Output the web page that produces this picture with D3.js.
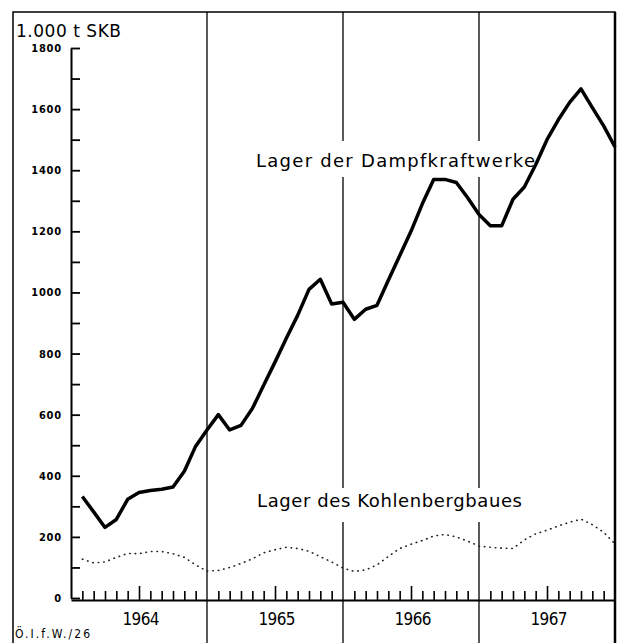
<!DOCTYPE html>
<html>
<head>
<meta charset="utf-8">
<script src="https://cdn.jsdelivr.net/npm/d3@7"></script>
<style>
  body { margin: 0; background: #fff; }
  svg { display: block; }
  .y-axis text { font-family: "DejaVu Sans Condensed", "DejaVu Sans", sans-serif; font-weight: bold; font-size: 11px; letter-spacing: 0.8px; }
</style>
</head>
<body>
<div id="chart"></div>
<script>
/**
 * CONSTANTS AND GLOBALS
 * */
const width = 623,
  height = 643,
  margin = { top: 48, bottom: 43, left: 71, right: 8 };

// years on the x axis (monthly values, end of month)
const years = [1964, 1965, 1966, 1967];

// Lager der Dampfkraftwerke, 1.000 t SKB, Jan 1964 - Dec 1967
const kraftwerke = [
  332, 282, 231, 257, 323, 345, 352, 356, 363, 415, 497, 550,
  600, 550, 565, 620, 696, 772, 850, 925, 1010, 1043, 962, 968,
  912, 945, 958, 1040, 1120, 1200, 1290, 1370, 1370, 1360, 1310, 1255,
  1218, 1218, 1305, 1345, 1418, 1500, 1565, 1622, 1666, 1605, 1545, 1476
];

// Lager des Kohlenbergbaues
const bergbau = [
  127, 115, 118, 133, 146, 145, 152, 152, 145, 133, 108, 88,
  90, 100, 113, 128, 148, 158, 166, 162, 153, 135, 118, 98,
  87, 92, 108, 136, 162, 176, 188, 203, 208, 200, 186, 170,
  166, 163, 162, 190, 210, 222, 236, 248, 258, 240, 215, 177
];

const yTicks = d3.range(0, 1801, 100);
const yLabels = [0, 200, 400, 600, 800, 1000, 1200, 1400, 1600, 1800];

const svg = d3.select("#chart")
  .append("svg")
  .attr("width", width)
  .attr("height", height);

// SCALES
const xScale = d3.scaleLinear()
  .domain([0, years.length * 12])
  .range([margin.left, width - margin.right]);

const yScale = d3.scaleLinear()
  .domain([0, 1800])
  .range([598, margin.top]);

// outer frame
svg.append("rect")
  .attr("x", 13).attr("y", 12)
  .attr("width", width - margin.right - 13)
  .attr("height", 660)
  .attr("fill", "none")
  .attr("stroke", "#000")
  .attr("stroke-width", 1.5);

svg.append("line")
  .attr("x1", width - margin.right).attr("x2", width - margin.right)
  .attr("y1", 12).attr("y2", height)
  .attr("stroke", "#000")
  .attr("stroke-width", 2.5);

// year separators
svg.selectAll(".year-line")
  .data(years.slice(1))
  .join("line")
  .attr("class", "year-line")
  .attr("x1", (d, i) => xScale((i + 1) * 12))
  .attr("x2", (d, i) => xScale((i + 1) * 12))
  .attr("y1", 12)
  .attr("y2", height)
  .attr("stroke", "#000")
  .attr("stroke-width", 1.3);

// white boxes behind the labels (they cut the year lines)
svg.append("rect")
  .attr("x", 250).attr("y", 141).attr("width", 290).attr("height", 36)
  .attr("fill", "#fff");
svg.append("rect")
  .attr("x", 250).attr("y", 488).attr("width", 280).attr("height", 34)
  .attr("fill", "#fff");

// y axis, ticks pointing inward
const yAxis = d3.axisLeft(yScale)
  .tickValues(yTicks)
  .tickSize(-9)
  .tickSizeOuter(0)
  .tickPadding(9)
  .tickFormat(d => yLabels.includes(d) ? d : "");

const gy = svg.append("g")
  .attr("class", "axis y-axis")
  .attr("transform", `translate(${margin.left},0)`)
  .call(yAxis);
gy.select(".domain").attr("stroke-width", 2);
gy.selectAll(".tick line").attr("stroke-width", 1.8);

// x axis, monthly ticks pointing up
const monthTicks = d3.range(1, years.length * 12).filter(m => m % 12 !== 0);
const xAxis = d3.axisBottom(xScale)
  .tickValues(monthTicks)
  .tickSize(-9)
  .tickSizeOuter(0)
  .tickFormat("");

const gx = svg.append("g")
  .attr("class", "axis x-axis")
  .attr("transform", `translate(0,${yScale(0) + 2})`)
  .call(xAxis);
gx.select(".domain").attr("stroke-width", 2);
gx.selectAll(".tick line")
  .attr("stroke-width", 1.6)
  .attr("y2", d => d % 12 === 6 ? -14 : -9);

// year labels
svg.selectAll(".year-label")
  .data(years)
  .join("text")
  .attr("class", "year-label")
  .attr("x", (d, i) => xScale(i * 12 + 6) + 2)
  .attr("y", 625)
  .attr("text-anchor", "middle")
  .attr("font-family", "DejaVu Sans Condensed, DejaVu Sans, sans-serif")
  .attr("font-size", 17)
  .attr("textLength", 37)
  .text(d => d);

// LINES
const line = d3.line()
  .x((d, i) => xScale(i + 1))
  .y(d => yScale(d));

svg.append("path")
  .datum(bergbau)
  .attr("fill", "none")
  .attr("stroke", "#222")
  .attr("stroke-width", 1.6)
  .attr("stroke-linecap", "round")
  .attr("stroke-dasharray", "0.5 5")
  .attr("d", line);

svg.append("path")
  .datum(kraftwerke)
  .attr("fill", "none")
  .attr("stroke", "#000")
  .attr("stroke-width", 3.5)
  .attr("stroke-linejoin", "round")
  .attr("d", line);

// TEXTS
svg.append("text")
  .attr("x", 16).attr("y", 37)
  .attr("font-family", "DejaVu Sans, sans-serif")
  .attr("font-size", 17)
  .attr("textLength", 105)
  .text("1.000 t SKB");

svg.append("text")
  .attr("x", 256).attr("y", 167)
  .attr("font-family", "DejaVu Sans, sans-serif")
  .attr("font-size", 18)
  .attr("textLength", 279)
  .text("Lager der Dampfkraftwerke");

svg.append("text")
  .attr("x", 257).attr("y", 507)
  .attr("font-family", "DejaVu Sans, sans-serif")
  .attr("font-size", 18)
  .attr("textLength", 265)
  .text("Lager des Kohlenbergbaues");

svg.append("text")
  .attr("x", 15).attr("y", 638)
  .attr("font-family", "DejaVu Sans Condensed, DejaVu Sans, sans-serif")
  .attr("font-size", 12)
  .attr("textLength", 75)
  .text("Ö.I.f.W./26");
</script>
</body>
</html>
